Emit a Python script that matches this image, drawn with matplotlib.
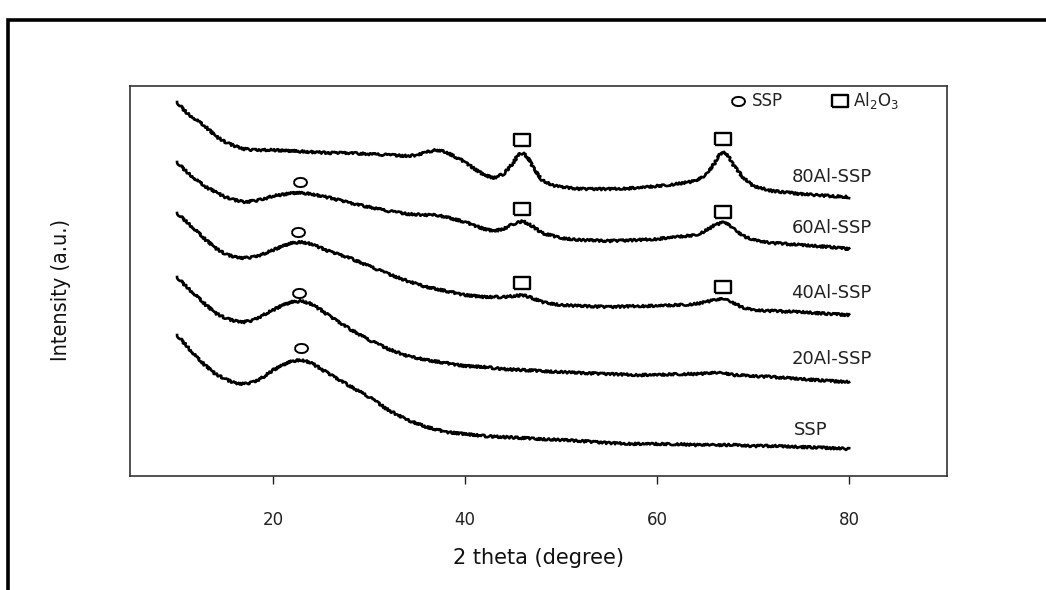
import matplotlib
matplotlib.use("Agg")
import matplotlib.pyplot as plt
from matplotlib.patches import Rectangle

# XRD patterns, 2 theta (degree) vs intensity (a.u., curves already stacked)
theta_80 = [10, 11, 12, 13, 14, 15, 16, 17, 18, 20, 22, 24, 26, 28, 30, 32, 34,
            35, 36, 37, 38, 39, 40, 41, 42, 43, 44, 45, 45.5, 46, 46.5, 47, 48,
            49, 50, 52, 55, 58, 60, 62, 64, 65, 66, 66.5, 67, 67.5, 68, 69, 70,
            72, 75, 78, 80]
int_80 = [374, 363, 356, 349, 340, 334, 330, 327, 326, 326, 325, 324, 323, 323,
          322, 321, 320, 321, 324, 326, 324, 319, 314, 307, 301, 298, 302, 313,
          321, 323, 319, 310, 296, 291, 289, 287, 287, 288, 290, 292, 295, 300,
          313, 321, 324, 319, 310, 298, 290, 285, 282, 280, 279]

theta_60 = [10, 11, 12, 13, 14, 15, 16, 17, 18, 19, 20, 22, 23, 24, 26, 28, 30,
            32, 34, 36, 37, 38, 40, 42, 43, 44, 45, 46, 47, 48, 50, 52, 55, 58,
            60, 62, 64, 65, 66, 67, 68, 69, 70, 72, 75, 78, 80]
int_60 = [314, 304, 296, 289, 284, 279, 276, 274, 275, 277, 280, 283, 283, 282,
          278, 273, 269, 265, 262, 261, 261, 259, 254, 247, 245, 247, 252, 255,
          250, 243, 238, 236, 235, 236, 237, 239, 241, 245, 251, 254, 247, 240,
          236, 233, 231, 229, 227]

theta_40 = [10, 11, 12, 13, 14, 15, 16, 17, 18, 19, 20, 21, 22, 23, 24, 25, 26,
            28, 30, 32, 34, 36, 38, 40, 42, 44, 45, 46, 47, 48, 50, 52, 55, 58,
            60, 62, 64, 65, 66, 67, 68, 69, 70, 72, 75, 78, 80]
int_40 = [263, 254, 245, 236, 228, 222, 219, 218, 219, 222, 226, 230, 233, 234,
          232, 228, 224, 218, 210, 202, 195, 189, 185, 181, 179, 179, 180, 181,
          178, 174, 171, 170, 169, 170, 170, 171, 172, 174, 176, 177, 173, 168,
          166, 165, 164, 162, 161]

theta_20 = [10, 11, 12, 13, 14, 15, 16, 17, 18, 19, 20, 21, 22, 23, 24, 25, 26,
            28, 30, 32, 34, 36, 38, 40, 42, 44, 46, 48, 50, 52, 55, 58, 60, 62,
            64, 66, 67, 68, 70, 72, 75, 78, 80]
int_20 = [199, 189, 180, 171, 163, 158, 155, 154, 156, 161, 166, 171, 174, 175,
          172, 166, 159, 147, 136, 127, 120, 116, 113, 110, 109, 107, 106, 105,
          104, 103, 102, 101, 101, 102, 102, 103, 103, 101, 100, 99, 97, 95, 94]

theta_ssp = [10, 11, 12, 13, 14, 15, 16, 17, 18, 19, 20, 21, 22, 23, 24, 25, 26,
             28, 30, 32, 34, 36, 38, 40, 42, 44, 46, 48, 50, 52, 55, 58, 60, 62,
             64, 66, 68, 70, 72, 75, 78, 80]
int_ssp = [141, 130, 119, 110, 102, 97, 93, 92, 94, 99, 106, 111, 115, 116, 113,
           107, 101, 90, 79, 66, 56, 49, 44, 42, 40, 39, 38, 37, 36, 35, 33, 32,
           32, 32, 31, 31, 31, 30, 30, 29, 28, 27]

sample_names = ["80Al-SSP", "60Al-SSP", "40Al-SSP", "20Al-SSP", "SSP"]
label_pos = [(74.0, 299), (74.0, 248), (74.0, 183), (74.0, 117), (74.2, 46)]

# phase markers above the peaks
ssp_marks = [(22.8, 294), (22.6, 244), (22.7, 183), (22.9, 128)]
alumina_marks = [(45.9, 336), (66.9, 337), (45.9, 267), (66.9, 264),
                 (45.9, 193), (66.9, 189)]

ellipse = [(-1.0, 0.0), (-0.87, 0.36), (-0.5, 0.62), (0.0, 0.7), (0.5, 0.62),
           (0.87, 0.36), (1.0, 0.0), (0.87, -0.36), (0.5, -0.62), (0.0, -0.7),
           (-0.5, -0.62), (-0.87, -0.36), (-1.0, 0.0)]
box = [(-1.0, -0.7), (1.0, -0.7), (1.0, 0.7), (-1.0, 0.7), (-1.0, -0.7)]
circ_style = dict(marker=ellipse, ms=9.5, mfc="none", mec="black", mew=1.4)
box_style = dict(marker=box, ms=12, mfc="none", mec="black", mew=1.7)

fig = plt.figure(figsize=(10.46, 5.90), dpi=100)
ax = fig.add_axes([0.1243, 0.1932, 0.7811, 0.661])

curves = [(theta_80, int_80), (theta_60, int_60), (theta_40, int_40),
          (theta_20, int_20), (theta_ssp, int_ssp)]
for t, y in curves:
    line, = ax.plot(t, y, color="black", lw=1.9)
    line.set_sketch_params(scale=1.1, length=1.5, randomness=5.0)

for x, y in ssp_marks:
    ax.plot(x, y, **circ_style)
for x, y in alumina_marks:
    ax.plot(x, y, **box_style)

for name, (x, y) in zip(sample_names, label_pos):
    ax.text(x, y, name, fontsize=13, color="#222222", ha="left", va="center")

# key in the top right corner
ax.plot(0.744, 0.962, transform=ax.transAxes, clip_on=False, **circ_style)
ax.text(0.761, 0.962, "SSP", transform=ax.transAxes, fontsize=12,
        color="#222222", va="center")
ax.plot(0.869, 0.962, transform=ax.transAxes, clip_on=False, **box_style)
ax.text(0.885, 0.962, "Al$_2$O$_3$", transform=ax.transAxes, fontsize=12,
        color="#222222", va="center")

ax.set_xlim(5.1, 90.2)
ax.set_ylim(0, 390)
ax.set_xticks([20, 40, 60, 80])
ax.set_yticks([])
ax.tick_params(axis="x", direction="out", length=6, width=1, pad=19,
               labelsize=12, colors="#222222")
for s in ax.spines.values():
    s.set_linewidth(1.2)
    s.set_color("#333333")

ax.set_xlabel("2 theta (degree)", fontsize=15, labelpad=14, color="#111111")
ax.set_ylabel("Intensity (a.u.)", fontsize=15.5, color="#111111",
              family="DejaVu Sans", fontstretch="condensed")
ax.yaxis.set_label_coords(-0.072, 0.477)

# frame round the whole figure
fig.add_artist(Rectangle((0.008, -0.1), 1.2, 1.066, transform=fig.transFigure,
                         fill=False, lw=2.6, edgecolor="black"))

fig.savefig("out.png", dpi=100)
